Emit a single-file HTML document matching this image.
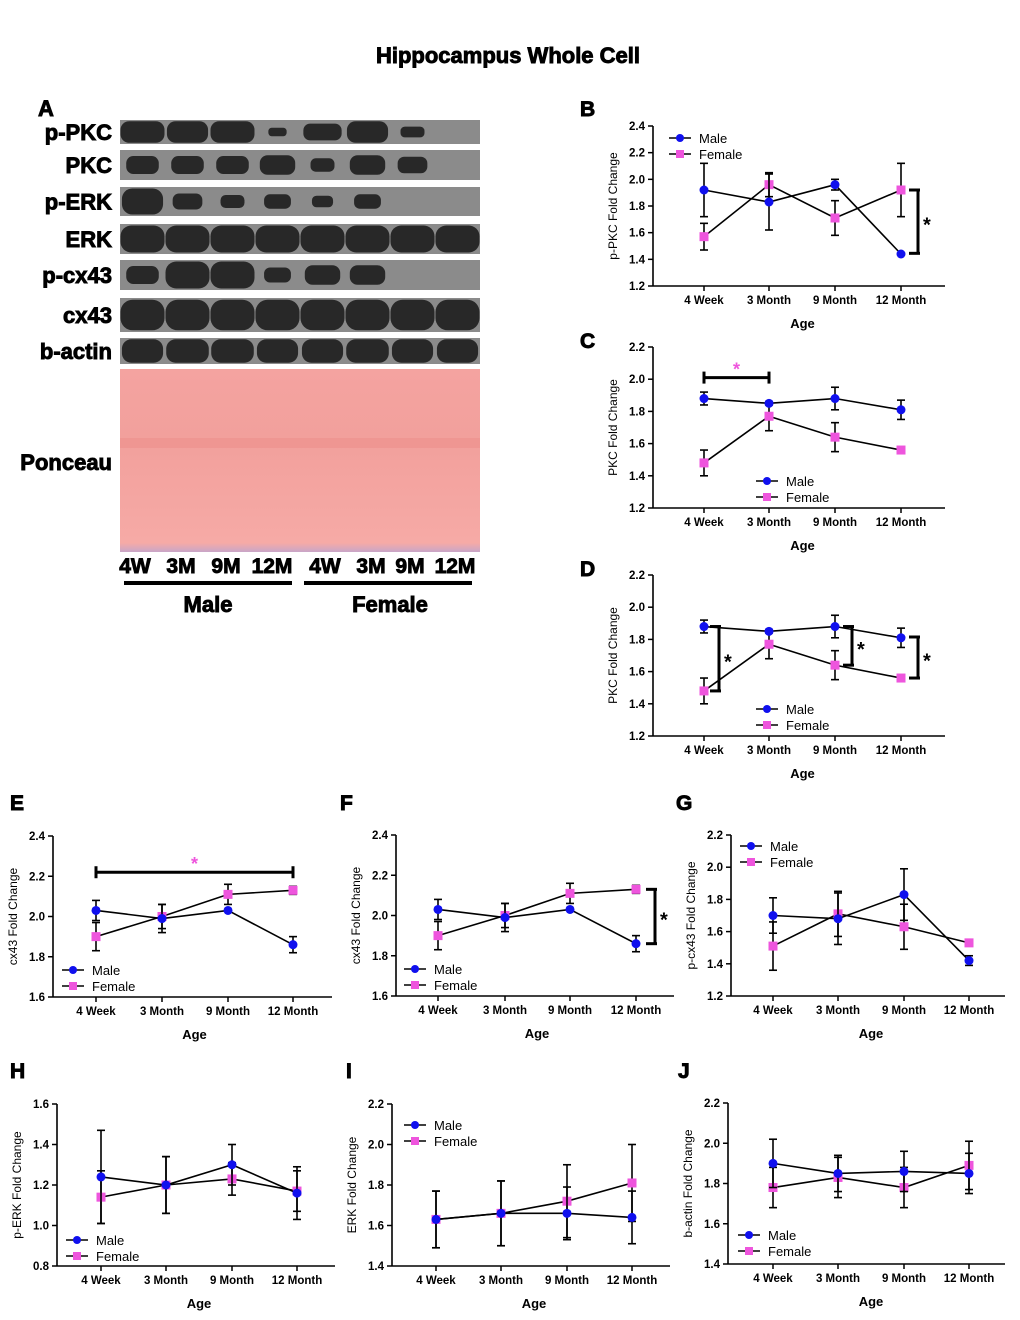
<!DOCTYPE html>
<html><head><meta charset="utf-8">
<style>
body{margin:0;background:#fff;}
svg{display:block;font-family:"Liberation Sans",Arial,sans-serif;}
.heavy{stroke:#000;stroke-width:0.9;}
</style></head>
<body>
<svg id="fig" width="1020" height="1320" viewBox="0 0 1020 1320" xmlns="http://www.w3.org/2000/svg">
<defs>
<linearGradient id="pon" x1="0" y1="0" x2="0" y2="1">
<stop offset="0" stop-color="#f4a3a0"/><stop offset="0.4" stop-color="#f2a09c"/><stop offset="0.95" stop-color="#f6aaa6"/><stop offset="1" stop-color="#c9a6c8"/>
</linearGradient>
</defs>
<text class="heavy" x="508" y="63" font-size="22" font-weight="bold" text-anchor="middle">Hippocampus Whole Cell</text>
<g id="blot"></g>
<g id="charts"></g>
</svg>
<script>
const NS='http://www.w3.org/2000/svg';
function mk(parent,tag,attrs,text){const e=document.createElementNS(NS,tag);for(const k in attrs)e.setAttribute(k,attrs[k]);if(text!==undefined)e.textContent=text;parent.appendChild(e);return e;}

// ---- blot ----
const blotRows=['p-PKC','PKC','p-ERK','ERK','p-cx43','cx43','b-actin'];
const blotTop=[120,150,187,224,260,298,338];
const blotBot=[144,180,216,254,290,332,364];
const bandInt=[[1,0.9,1,0.1,0.8,0.9,0.3,0],[0.6,0.6,0.6,0.7,0.3,0.7,0.5,0],[0.9,0.5,0.3,0.4,0.2,0.4,0,0],[1,1,1,1,1,1,1,1],[0.6,1,1,0.4,0.7,0.7,0,0],[1,1,1,1,1,1,1,1],[0.9,0.95,0.95,0.9,0.9,0.95,0.9,0.9]];
const blot=document.getElementById('blot');
blotRows.forEach((r,i)=>{
  const lab=mk(blot,'text',{x:112,y:(blotTop[i]+blotBot[i])/2+8,'font-size':22,'font-weight':'bold','text-anchor':'end',class:'heavy'},r);
  
  
  const bg=mk(blot,'rect',{x:120,y:blotTop[i],width:360,height:blotBot[i]-blotTop[i],fill:'#8b8b8b'});
  
  
  const h=blotBot[i]-blotTop[i];
  bandInt[i].forEach((v,j)=>{
    if(v<=0)return;
    const cx=120+45*j+22.5;
    const bw=44*Math.min(1,0.35+v*0.65), bh=h*(v>=0.9?0.9:0.3+v*0.5);
    const b=mk(blot,'rect',{x:cx-bw/2,y:blotTop[i]+(h-bh)/2,width:bw,height:bh,rx:Math.min(bw,bh)/2.5,fill:'#282828'});
    
    
  });
});
const pl=mk(blot,'text',{x:112,y:470,'font-size':22,'font-weight':'bold','text-anchor':'end',class:'heavy'},'Ponceau');


const pr=mk(blot,'rect',{x:120,y:369,width:360,height:183,fill:'url(#pon)'});


mk(blot,'rect',{x:120,y:438,width:360,height:10,fill:'#ec8f8c',opacity:0.6});
const lanes=['4W','3M','9M','12M','4W','3M','9M','12M'];
const laneX=[135,181,226,272,325,371,410,455];
lanes.forEach((l,i)=>{
  const t=mk(blot,'text',{x:laneX[i],y:573,'font-size':21,'font-weight':'bold','text-anchor':'middle',class:'heavy'},l);
  
  
});
mk(blot,'line',{x1:124,y1:583,x2:292,y2:583,stroke:'#000','stroke-width':4});
mk(blot,'line',{x1:304,y1:583,x2:472,y2:583,stroke:'#000','stroke-width':4});
let g1=mk(blot,'text',{x:208,y:612,'font-size':22,'font-weight':'bold','text-anchor':'middle',class:'heavy'},'Male');

let g2=mk(blot,'text',{x:390,y:612,'font-size':22,'font-weight':'bold','text-anchor':'middle',class:'heavy'},'Female');

let la=mk(blot,'text',{x:38,y:116,'font-size':22,'font-weight':'bold',class:'heavy'},'A');


// ---- chart data ----
const categories=['4 Week','3 Month','9 Month','12 Month'];
const maleB=[1.92,1.83,1.96,1.44], maleBErr=[0.2,0.21,0.04,0];
const femaleB=[1.57,1.96,1.71,1.92], femaleBErr=[0.1,0.09,0.13,0.2];
const maleC=[1.88,1.85,1.88,1.81], maleCErr=[0.04,0.01,0.07,0.06];
const femaleC=[1.48,1.77,1.64,1.56], femaleCErr=[0.08,0.09,0.09,0.02];
const maleE=[2.03,1.99,2.03,1.86], maleEErr=[0.05,0.07,0,0.04];
const femaleE=[1.90,2.00,2.11,2.13], femaleEErr=[0.07,0.06,0.05,0.02];
const maleG=[1.70,1.68,1.83,1.42], maleGErr=[0.11,0.16,0.16,0.03];
const femaleG=[1.51,1.71,1.63,1.53], femaleGErr=[0.15,0.14,0.14,0];
const maleH=[1.24,1.20,1.30,1.16], maleHErr=[0.23,0.14,0.10,0.13];
const femaleH=[1.14,1.20,1.23,1.17], femaleHErr=[0.13,0.14,0.08,0.10];
const maleI=[1.63,1.66,1.66,1.64], maleIErr=[0.14,0.16,0.13,0.13];
const femaleI=[1.63,1.66,1.72,1.81], femaleIErr=[0.14,0.16,0.18,0.19];
const maleJ=[1.90,1.85,1.86,1.85], maleJErr=[0.12,0.09,0.10,0.10];
const femaleJ=[1.78,1.83,1.78,1.89], femaleJErr=[0.10,0.10,0.10,0.12];
const ticksB=[1.2,1.4,1.6,1.8,2.0,2.2,2.4];
const ticksC=[1.2,1.4,1.6,1.8,2.0,2.2];
const ticksE=[1.6,1.8,2.0,2.2,2.4];
const ticksG=[1.2,1.4,1.6,1.8,2.0,2.2];
const ticksH=[0.8,1.0,1.2,1.4,1.6];
const ticksI=[1.4,1.6,1.8,2.0,2.2];

const chartsG=document.getElementById('charts');
function chart(o){
  const g=mk(chartsG,'g',{});
  
  
  const t0=o.ticks[0],t1=o.ticks[o.ticks.length-1];
  const y=v=>o.yb+(v-t0)/(t1-t0)*(o.yt-o.yb);
  const x=i=>o.cx[i];
  const L=mk(g,'text',{x:o.lx,y:o.ly,'font-size':21,'font-weight':'bold',class:'heavy'},o.id);
  
  
  mk(g,'line',{x1:o.ax,y1:o.yt,x2:o.ax,y2:o.yb,stroke:'#000','stroke-width':1.6});
  mk(g,'line',{x1:o.ax,y1:o.yb,x2:o.xr,y2:o.yb,stroke:'#000','stroke-width':1.6});
  o.ticks.forEach(v=>{
    mk(g,'line',{x1:o.ax-5,y1:y(v),x2:o.ax,y2:y(v),stroke:'#000','stroke-width':1.5});
    const tl=mk(g,'text',{x:o.ax-8,y:y(v)+4,'font-size':11.5,'font-weight':'bold','text-anchor':'end'},v.toFixed(1));
    
    
  });
  categories.forEach((c,i)=>{
    mk(g,'line',{x1:x(i),y1:o.yb,x2:x(i),y2:o.yb+5,stroke:'#000','stroke-width':1.5});
    const cl=mk(g,'text',{x:x(i),y:o.yb+18,'font-size':11.5,'font-weight':'bold','text-anchor':'middle'},c);
    
    
  });
  const xt=mk(g,'text',{x:(x(0)+x(3))/2,y:o.yb+42,'font-size':13,'font-weight':'bold','text-anchor':'middle'},'Age');
  
  
  const yc=(o.yt+o.yb)/2, yx=o.ax-36;
  const yt=mk(g,'text',{x:yx,y:yc,'font-size':12,'text-anchor':'middle',transform:`rotate(-90 ${yx} ${yc})`},o.ytitle);
  
  
  [[o.f,o.fe,'#ee55dd','sq','female'],[o.m,o.me,'#1010ee','ci','male']].forEach(([d,e,col,sh,nm])=>{
    mk(g,'polyline',{points:d.map((v,i)=>x(i)+','+y(v)).join(' '),fill:'none',stroke:'#000','stroke-width':1.6});
    d.forEach((v,i)=>{
      if(e[i]>0){
        mk(g,'line',{x1:x(i),y1:y(v-e[i]),x2:x(i),y2:y(v+e[i]),stroke:'#000','stroke-width':1.6});
        [v-e[i],v+e[i]].forEach(w=>mk(g,'line',{x1:x(i)-4,y1:y(w),x2:x(i)+4,y2:y(w),stroke:'#000','stroke-width':1.6}));
      }
    });
    d.forEach((v,i)=>{
      let p;
      if(sh==='sq')p=mk(g,'rect',{x:x(i)-4.5,y:y(v)-4.5,width:9,height:9,fill:col});
      else p=mk(g,'circle',{cx:x(i),cy:y(v),r:4.5,fill:col});
      
      
    });
  });
  [['Male','#1010ee','ci'],['Female','#ee55dd','sq']].forEach(([n,col,sh],k)=>{
    const ly=o.legY+k*16;
    mk(g,'line',{x1:o.legX,y1:ly,x2:o.legX+22,y2:ly,stroke:'#000','stroke-width':1.5});
    if(sh==='ci')mk(g,'circle',{cx:o.legX+11,cy:ly,r:4,fill:col});
    else mk(g,'rect',{x:o.legX+7,y:ly-4,width:8,height:8,fill:col});
    const lt=mk(g,'text',{x:o.legX+30,y:ly+5,'font-size':13},n);
    
    
  });
  (o.vbr||[]).forEach(b=>{
    mk(g,'line',{x1:b[0],y1:y(b[1]),x2:b[0],y2:y(b[2]),stroke:'#000','stroke-width':3});
    mk(g,'line',{x1:b[0]-9,y1:y(b[1]),x2:b[0]+2,y2:y(b[1]),stroke:'#000','stroke-width':3});
    mk(g,'line',{x1:b[0]-9,y1:y(b[2]),x2:b[0]+2,y2:y(b[2]),stroke:'#000','stroke-width':3});
    const s=mk(g,'text',{x:b[0]+5,y:(y(b[1])+y(b[2]))/2+10,'font-size':20,'font-weight':'bold'},'*');
    
    
  });
  if(o.hbr){
    const b=o.hbr;
    mk(g,'line',{x1:x(b[0]),y1:y(b[2]),x2:x(b[1]),y2:y(b[2]),stroke:'#000','stroke-width':3});
    mk(g,'line',{x1:x(b[0]),y1:y(b[2])-6,x2:x(b[0]),y2:y(b[2])+6,stroke:'#000','stroke-width':3});
    mk(g,'line',{x1:x(b[1]),y1:y(b[2])-6,x2:x(b[1]),y2:y(b[2])+6,stroke:'#000','stroke-width':3});
    const s=mk(g,'text',{x:(x(b[0])+x(b[1]))/2,y:y(b[2])-2,'font-size':18,'font-weight':'bold',fill:'#ee55dd','text-anchor':'middle'},'*');
    
    
  }
}
const cxR=[704,769,835,901];
chart({id:'B',lx:580,ly:116,ax:653,yt:126,yb:286,xr:945,cx:cxR,ticks:ticksB,m:maleB,me:maleBErr,f:femaleB,fe:femaleBErr,ytitle:'p-PKC Fold Change',legX:669,legY:138,vbr:[[918,1.92,1.445]]});
chart({id:'C',lx:580,ly:348,ax:653,yt:347,yb:508,xr:945,cx:cxR,ticks:ticksC,m:maleC,me:maleCErr,f:femaleC,fe:femaleCErr,ytitle:'PKC Fold Change',legX:756,legY:481,hbr:[0,1,2.01]});
chart({id:'D',lx:580,ly:576,ax:653,yt:575,yb:736,xr:945,cx:cxR,ticks:ticksC,m:maleC,me:maleCErr,f:femaleC,fe:femaleCErr,ytitle:'PKC Fold Change',legX:756,legY:709,vbr:[[719,1.88,1.48],[852,1.88,1.64],[918,1.815,1.56]]});
chart({id:'E',lx:10,ly:810,ax:53,yt:836,yb:997,xr:332,cx:[96,162,228,293],ticks:ticksE,m:maleE,me:maleEErr,f:femaleE,fe:femaleEErr,ytitle:'cx43 Fold Change',legX:62,legY:970,hbr:[0,3,2.22]});
chart({id:'F',lx:340,ly:810,ax:396,yt:835,yb:996,xr:674,cx:[438,505,570,636],ticks:ticksE,m:maleE,me:maleEErr,f:femaleE,fe:femaleEErr,ytitle:'cx43 Fold Change',legX:404,legY:969,vbr:[[655,2.13,1.86]]});
chart({id:'G',lx:676,ly:810,ax:731,yt:835,yb:996,xr:1005,cx:[773,838,904,969],ticks:ticksG,m:maleG,me:maleGErr,f:femaleG,fe:femaleGErr,ytitle:'p-cx43 Fold Change',legX:740,legY:846});
chart({id:'H',lx:10,ly:1078,ax:57,yt:1104,yb:1266,xr:335,cx:[101,166,232,297],ticks:ticksH,m:maleH,me:maleHErr,f:femaleH,fe:femaleHErr,ytitle:'p-ERK Fold Change',legX:66,legY:1240});
chart({id:'I',lx:346,ly:1078,ax:392,yt:1104,yb:1266,xr:670,cx:[436,501,567,632],ticks:ticksI,m:maleI,me:maleIErr,f:femaleI,fe:femaleIErr,ytitle:'ERK Fold Change',legX:404,legY:1125});
chart({id:'J',lx:678,ly:1078,ax:728,yt:1103,yb:1264,xr:1005,cx:[773,838,904,969],ticks:ticksI,m:maleJ,me:maleJErr,f:femaleJ,fe:femaleJErr,ytitle:'b-actin Fold Change',legX:738,legY:1235});
</script>
</body></html>
